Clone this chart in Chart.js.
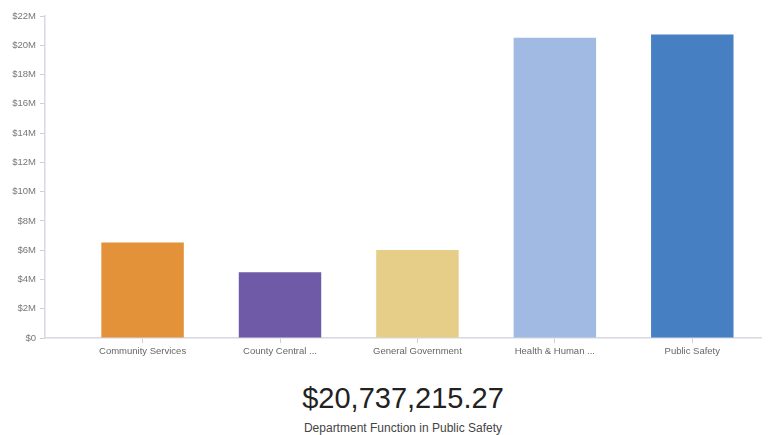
<!DOCTYPE html>
<html>
<head>
<meta charset="utf-8">
<script src="https://cdn.jsdelivr.net/npm/chart.js@4/dist/chart.umd.min.js"></script>
<style>
  html, body { margin: 0; padding: 0; background: #fff; }
  #wrap { position: relative; width: 777px; height: 435px; overflow: hidden; }
  #box { position: absolute; left: 0; top: 0; width: 777px; height: 370px; }
  #total { position: absolute; left: 45px; width: 716px; top: 382px; text-align: center;
    font-family: 'Liberation Sans', Arial, sans-serif; font-size: 29px; color: #222; }
  #caption { position: absolute; left: 45px; width: 716px; top: 421px; text-align: center;
    font-family: 'Liberation Sans', Arial, sans-serif; font-size: 12px; color: #444; }
</style>
</head>
<body>
<div id="wrap">
  <div id="box"><canvas id="chartCanvas"></canvas></div>
  <div id="total">$20,737,215.27</div>
  <div id="caption">Department Function in Public Safety</div>
</div>
<script>
(() => {
'use strict';

const categories = ['Community Services', 'County Central ...', 'General Government', 'Health & Human ...', 'Public Safety'];
const amounts = [6520000, 4500000, 6020000, 20510000, 20737215.27];
const barColors = ['#e3923a', '#6e5aa7', '#e6cd88', '#a1bae4', '#4680c2'];
const yTicks = [0, 2, 4, 6, 8, 10, 12, 14, 16, 18, 20, 22]; // millions

const FONT = "'Liberation Sans Narrow', 'Arial Narrow', 'Liberation Sans', sans-serif";

const ctx = document.getElementById('chartCanvas').getContext('2d');
new Chart(ctx, {
    type: 'bar',
    data: {
        datasets: [{
            data: amounts.map((v, i) => ({ x: i, y: v })),
            backgroundColor: barColors,
            borderWidth: 0,
            barPercentage: 0.6,
            categoryPercentage: 1
        }]
    },
    options: {
        responsive: true,
        maintainAspectRatio: false,
        animation: false,
        layout: { padding: { top: 16, right: 16, left: 0, bottom: 0 } },
        plugins: { legend: { display: false }, tooltip: { enabled: false } },
        scales: {
            x: {
                type: 'linear',
                offset: false,
                min: -0.71,
                max: 4.5,
                afterBuildTicks: s => { s.ticks = categories.map((c, i) => ({ value: i })); },
                afterFit: s => { s.height = 32; },
                ticks: {
                    callback: v => categories[v],
                    color: '#666',
                    padding: 3,
                    maxRotation: 0,
                    autoSkip: false,
                    font: { family: FONT, size: 9.5 }
                },
                grid: { offset: false, drawOnChartArea: false, tickLength: 5, color: '#cfcfd6' },
                border: { color: '#d8d8e0', width: 1.5 }
            },
            y: {
                min: 0,
                max: 22000000,
                afterBuildTicks: s => { s.ticks = yTicks.map(m => ({ value: m * 1e6 })); },
                afterFit: s => { s.width = 45; },
                ticks: {
                    callback: v => v === 0 ? '$0' : '$' + (v / 1e6) + 'M',
                    color: '#777',
                    padding: 4,
                    font: { family: FONT, size: 9.5 }
                },
                grid: { drawOnChartArea: false, tickLength: 5, color: '#cfcfd6' },
                border: { color: '#d8d8e0', width: 1.5 }
            }
        }
    }
});
})();
</script>
</body>
</html>
